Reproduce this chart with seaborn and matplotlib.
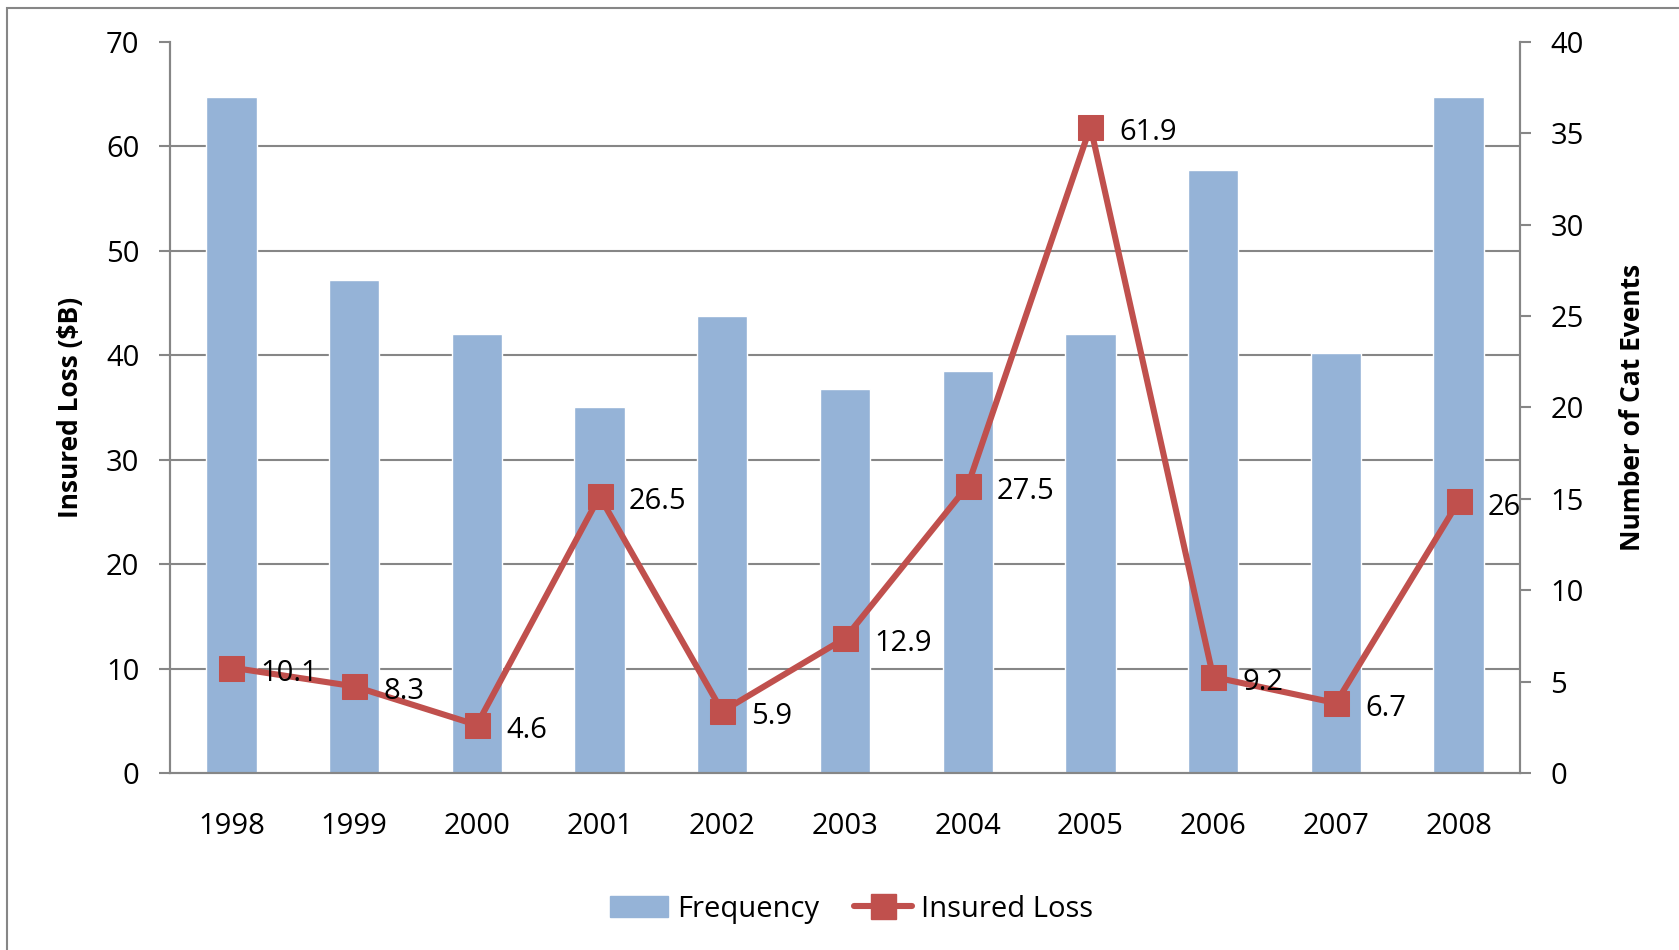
import matplotlib
matplotlib.use("Agg")
import matplotlib.pyplot as plt
import numpy as np
import seaborn as sns
from matplotlib.lines import Line2D
from matplotlib.patches import Patch, Rectangle

years = ["1998", "1999", "2000", "2001", "2002", "2003", "2004", "2005", "2006", "2007", "2008"]
frequency = [37, 27, 24, 20, 25, 21, 22, 24, 33, 23, 37]
insured_loss = [10.1, 8.3, 4.6, 26.5, 5.9, 12.9, 27.5, 61.9, 9.2, 6.7, 26]
loss_labels = ["10.1", "8.3", "4.6", "26.5", "5.9", "12.9", "27.5", "61.9", "9.2", "6.7", "26"]

sns.set_theme(style="white")
plt.rcParams["font.family"] = ["Open Sans", "DejaVu Sans"]
plt.rcParams["text.color"] = "black"
plt.rcParams["axes.labelcolor"] = "black"
plt.rcParams["xtick.color"] = "black"
plt.rcParams["ytick.color"] = "black"

BAR = "#95B3D7"
LINE = "#C0504D"
GRAY = "#868686"
FS = 21

fig = plt.figure(figsize=(16.79, 9.5), dpi=100)
ax = fig.add_axes([170 / 1679, 1 - 773 / 950, (1520 - 170) / 1679, (773 - 42) / 950])
ax2 = ax.twinx()

x = np.arange(len(years))

# bars on the right axis (frequency)
sns.barplot(x=years, y=frequency, ax=ax2, color=BAR, width=0.41, saturation=1, zorder=2)
ax2.set_ylim(0, 40)
ax2.set_yticks(np.arange(0, 41, 5))
# gridlines matching the left-axis ticks, drawn under the bars
ax2.set_yticks(np.arange(0, 71, 10) * 40 / 70, minor=True)
ax2.grid(which="minor", axis="y", color=GRAY, linewidth=1.5, zorder=0)
ax2.set_axisbelow(True)
ax2.tick_params(axis="y", which="major", direction="out", length=8, width=1.5, color=GRAY,
                labelcolor="black", labelsize=FS, pad=14, right=True)
ax2.tick_params(axis="y", which="minor", length=0)
ax2.set_ylabel("Number of Cat Events", fontsize=19, fontweight="bold", labelpad=25)

# line on the left axis (insured loss)
ax.set_zorder(ax2.get_zorder() + 1)
ax.patch.set_visible(False)
sns.lineplot(x=x, y=insured_loss, ax=ax, color=LINE, linewidth=4.4, marker="s",
             markersize=18, markeredgecolor=LINE, zorder=5)
for xi, val, lab in zip(x, insured_loss, loss_labels):
    ax.annotate(lab, (xi, val), xytext=(21, -4), textcoords="offset points",
                ha="left", va="center", fontsize=FS, color="black", zorder=6)

ax.set_ylim(0, 70)
ax.set_yticks(np.arange(0, 71, 10))
ax.set_xlim(-0.5, len(years) - 0.5)
ax2.set_xlim(-0.5, len(years) - 0.5)
ax.set_xticks(x)
ax.set_xticklabels(years)
ax.set_xticks(np.arange(-0.5, len(years), 1), minor=True)
ax.tick_params(axis="x", which="major", length=0, labelsize=FS, pad=28, labelcolor="black")
ax.tick_params(axis="x", which="minor", direction="out", length=8, width=1.5, color=GRAY)
ax.tick_params(axis="y", direction="out", length=8, width=1.5, color=GRAY, labelcolor="black",
               labelsize=FS, pad=14, left=True)
ax.set_ylabel("Insured Loss ($B)", fontsize=19, fontweight="bold", labelpad=16)
ax.set_xlabel("")
ax2.set_xlabel("")
ax2.tick_params(axis="x", length=0, labelbottom=False)

for a in (ax, ax2):
    for side in ("left", "right", "bottom"):
        a.spines[side].set_color(GRAY)
        a.spines[side].set_linewidth(1.5)
    a.spines["top"].set_visible(False)

handles = [Patch(facecolor=BAR, edgecolor=BAR, label="Frequency"),
           Line2D([0], [0], color=LINE, linewidth=4.4, marker="s", markersize=18, label="Insured Loss")]
fig.legend(handles=handles, loc="center", bbox_to_anchor=(0.507, 0.043), ncol=2, frameon=False,
           fontsize=FS, handlelength=2.0, columnspacing=1.2, handletextpad=0.3)

# outer chart border
fig.patches.append(Rectangle((7 / 1679, -0.1), 1.2, 1 - 8 / 950 + 0.1, transform=fig.transFigure,
                             fill=False, edgecolor=GRAY, linewidth=1.5))

fig.savefig("out.png", dpi=100)
